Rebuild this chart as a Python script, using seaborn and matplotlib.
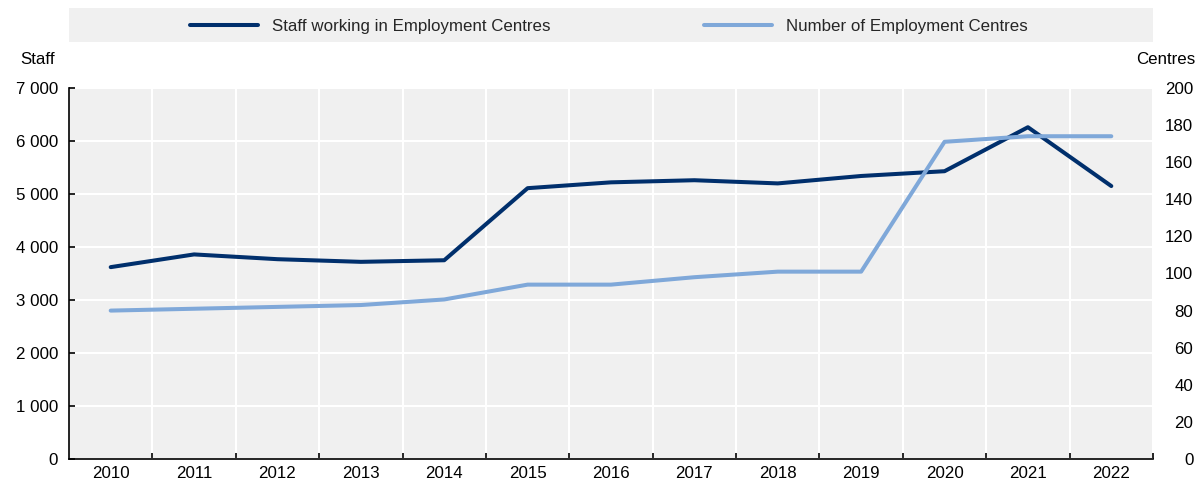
import matplotlib
matplotlib.use("Agg")
import matplotlib.pyplot as plt
import seaborn as sns
import pandas as pd
from matplotlib.patches import Rectangle
from matplotlib.lines import Line2D
from matplotlib.ticker import FuncFormatter, MultipleLocator, FixedLocator

years = [2010, 2011, 2012, 2013, 2014, 2015, 2016, 2017, 2018, 2019, 2020, 2021, 2022]
staff = [3620, 3860, 3770, 3720, 3750, 5110, 5220, 5260, 5200, 5340, 5430, 6260, 5150]
centres = [80, 81, 82, 83, 86, 94, 94, 98, 101, 101, 171, 174, 174]
staff_label = "Staff working in Employment Centres"
centres_label = "Number of Employment Centres"

sns.set_theme(style="white")
plt.rcParams['font.family'] = ['Liberation Sans', 'DejaVu Sans']
FS = 12.2

dark = "#002F6C"
light = "#7FA8D9"
bg = "#F0F0F0"

fig = plt.figure(figsize=(11.98, 4.83), dpi=100)
L, R, B, T = 69/1198, 1153/1198, 1 - 459/483, 1 - 88/483
ax = fig.add_axes([L, B, R - L, T - B])
ax.set_facecolor(bg)

df = pd.DataFrame({"year": years, "staff": staff, "centres": centres})
sns.lineplot(data=df, x="year", y="staff", ax=ax, color=dark, lw=2.9, legend=False)
ax2 = ax.twinx()
sns.lineplot(data=df, x="year", y="centres", ax=ax2, color=light, lw=2.9, legend=False)
ax2.patch.set_visible(False)

ax.set_xlim(years[0] - 0.5, years[-1] + 0.5)
ax.set_ylim(0, 7000)
ax2.set_ylim(0, 200)

fmt = FuncFormatter(lambda v, p: f"{int(v):,}".replace(",", " "))
ax.yaxis.set_major_locator(MultipleLocator(1000))
ax.yaxis.set_major_formatter(fmt)
ax2.yaxis.set_major_locator(MultipleLocator(20))

ax.set_xticks(years)
ax.set_xticklabels([str(y) for y in years])
ax.xaxis.set_minor_locator(FixedLocator([y + 0.5 for y in years]))

ax.grid(False)
ax.yaxis.grid(True, which="major", color="white", lw=1.5)
ax.xaxis.grid(True, which="minor", color="white", lw=1.5)
ax.set_axisbelow(True)

for s in ["top", "right"]:
    ax.spines[s].set_visible(False)
for s in ["left", "bottom"]:
    ax.spines[s].set_color("black")
    ax.spines[s].set_linewidth(1.2)
for s in ax2.spines.values():
    s.set_visible(False)

ax.tick_params(axis="x", which="major", length=0, pad=5, labelsize=FS, colors="black")
ax.tick_params(axis="x", which="minor", direction="in", length=4.5, width=1.2, color="black", bottom=True)
ax.tick_params(axis="y", which="major", direction="in", length=4.5, width=1.2, color="black", left=True, pad=8, labelsize=FS, labelcolor="black")
ax2.tick_params(axis="y", length=0, pad=29, labelsize=FS, labelcolor="black")
for lab in ax2.get_yticklabels():
    lab.set_ha("right")

ax.set_xlabel("")
ax.set_ylabel("")
ax2.set_ylabel("")

fig.text(55/1198, 1 - 60/483, "Staff", ha="right", va="center", fontsize=FS, color="black")
fig.text(1195/1198, 1 - 60/483, "Centres", ha="right", va="center", fontsize=FS, color="black")

# legend band
fig.patches.append(Rectangle((L, 1 - 42/483), R - L, 34/483, transform=fig.transFigure,
                             facecolor=bg, edgecolor="none", zorder=0))
handles = [Line2D([], [], color=dark, lw=2.9), Line2D([], [], color=light, lw=2.9)]
fig.legend(handles, [staff_label, centres_label], loc="center",
           bbox_to_anchor=(609/1198, 1 - 26/483), ncol=2, frameon=False,
           fontsize=FS, handlelength=4.0, handletextpad=0.8, columnspacing=9.1)

fig.savefig("out.png", dpi=100)
